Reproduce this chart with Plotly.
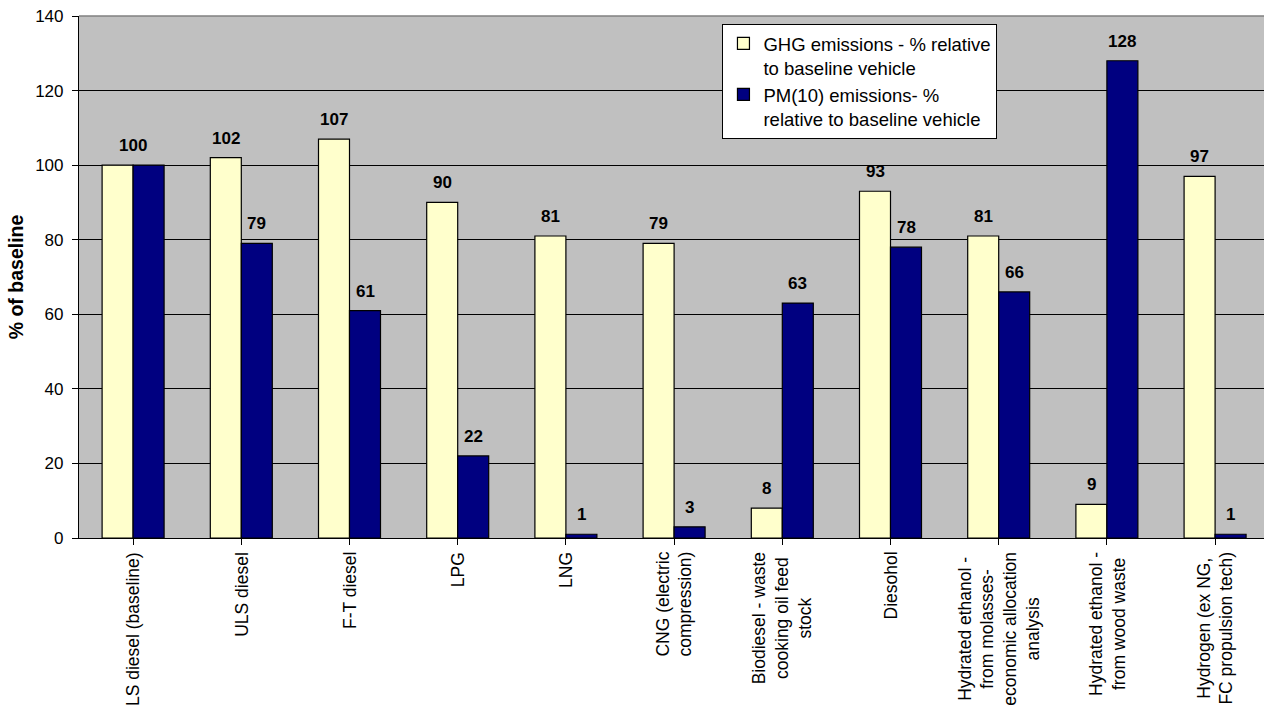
import plotly.graph_objects as go

categories = [
    "LS diesel (baseline)",
    "ULS diesel",
    "F-T diesel",
    "LPG",
    "LNG",
    "CNG (electric<br>compression)",
    "Biodiesel - waste<br>cooking oil feed<br>stock",
    "Diesohol",
    "Hydrated ethanol -<br>from molasses-<br>economic allocation<br>analysis",
    "Hydrated ethanol -<br>from wood waste",
    "Hydrogen (ex NG,<br>FC propulsion tech)",
]
ghg_values = [100, 102, 107, 90, 81, 79, 8, 93, 81, 9, 97]
pm10_values = [100, 79, 61, 22, 1, 3, 63, 78, 66, 128, 1]
y_ticks = [0, 20, 40, 60, 80, 100, 120, 140]

ghg_name = "GHG emissions - % relative<br>to baseline vehicle"
pm_name = "PM(10) emissions- %<br>relative to baseline vehicle"

FONT = "Arial, Liberation Sans, sans-serif"
idx = list(range(len(categories)))

fig = go.Figure()
fig.add_trace(go.Bar(
    x=idx, y=ghg_values, name=ghg_name,
    marker=dict(color="#FFFFCC", line=dict(color="black", width=1.2)),
))
fig.add_trace(go.Bar(
    x=idx, y=pm10_values, name=pm_name,
    marker=dict(color="#000080", line=dict(color="black", width=1.2)),
))


def value_label(x, val, dx):
    fig.add_annotation(
        x=x, y=val, xref="x", yref="y", text=f"<b>{val}</b>",
        showarrow=False, xshift=dx, yshift=8, yanchor="bottom",
        font=dict(family=FONT, size=17, color="black"),
    )


# value labels above each bar (a single centred label when both are equal)
for i, (g, p) in enumerate(zip(ghg_values, pm10_values)):
    if g == p:
        value_label(i, g, 0)
    else:
        value_label(i, g, -15.5)
        value_label(i, p, 15.5)

# rotated, centred category labels under the axis
for i, cat in enumerate(categories):
    fig.add_annotation(
        x=i, y=0, xref="x", yref="y", text=cat, textangle=-90,
        showarrow=False, yanchor="top", xanchor="center", align="center",
        yshift=-12, font=dict(family=FONT, size=17.5, color="black"),
    )

# grey top border of the plot area
fig.add_shape(type="line", xref="paper", yref="paper", x0=0, x1=1, y0=1, y1=1,
              line=dict(color="#808080", width=1.5))

fig.update_layout(
    width=1264, height=713,
    margin=dict(l=79, r=0, t=16, b=175),
    paper_bgcolor="white",
    plot_bgcolor="#C0C0C0",
    barmode="group",
    bargap=0.427,
    bargroupgap=0,
    font=dict(family=FONT, size=17, color="black"),
    legend=dict(
        x=0.543, y=0.985, xanchor="left", yanchor="top",
        bgcolor="white", bordercolor="black", borderwidth=1,
        font=dict(family=FONT, size=18.5, color="black"),
        valign="top", itemwidth=30,
    ),
    xaxis=dict(
        range=[-0.5, 10.452],
        tickvals=idx, ticktext=[""] * len(idx),
        tickson="boundaries", ticks="outside", ticklen=6, tickcolor="black",
        showline=True, linecolor="black", linewidth=1.2,
        showgrid=False, zeroline=False,
    ),
    yaxis=dict(
        range=[0, 140], tickvals=y_ticks,
        ticks="outside", ticklen=6, tickcolor="black",
        showline=True, linecolor="black", linewidth=1.2,
        showgrid=True, gridcolor="black", gridwidth=1,
        zeroline=False, ticklabelstandoff=5,
        tickfont=dict(family=FONT, size=17),
        title=dict(text="<b>% of baseline</b>", standoff=6,
                   font=dict(family=FONT, size=19.5)),
    ),
)

fig.write_html("out.html")
